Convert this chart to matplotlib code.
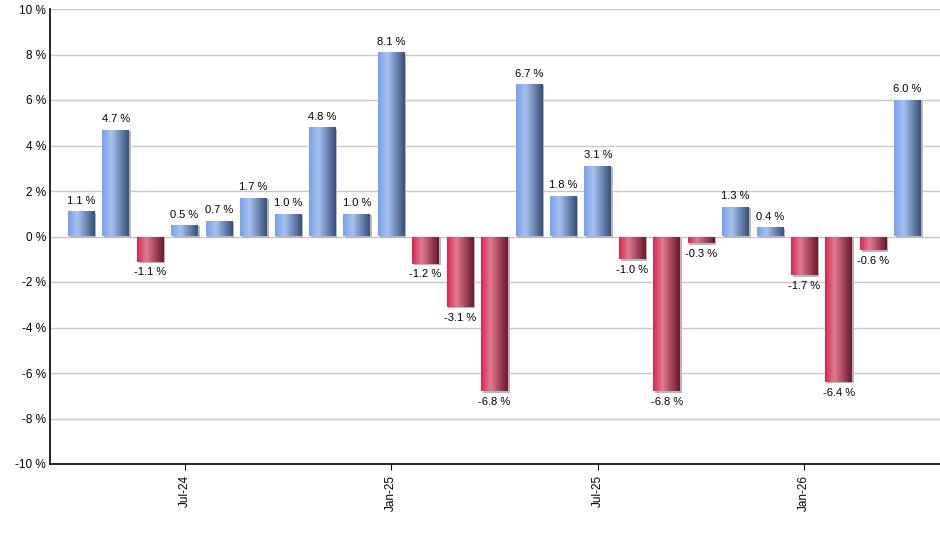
import numpy as np
import matplotlib
matplotlib.use("Agg")
import matplotlib.pyplot as plt
from matplotlib.colors import LinearSegmentedColormap

plt.rcParams['font.family'] = ['Liberation Sans', 'DejaVu Sans']

# monthly returns, Apr-24 .. Apr-26
months = ["Apr-24", "May-24", "Jun-24", "Jul-24", "Aug-24", "Sep-24", "Oct-24",
          "Nov-24", "Dec-24", "Jan-25", "Feb-25", "Mar-25", "Apr-25", "May-25",
          "Jun-25", "Jul-25", "Aug-25", "Sep-25", "Oct-25", "Nov-25", "Dec-25",
          "Jan-26", "Feb-26", "Mar-26", "Apr-26"]
returns = [1.1, 4.7, -1.1, 0.5, 0.7, 1.7, 1.0, 4.8, 1.0, 8.1, -1.2, -3.1, -6.8,
           6.7, 1.8, 3.1, -1.0, -6.8, -0.3, 1.3, 0.4, -1.7, -6.4, -0.6, 6.0]
tick_labels = ["Jul-24", "Jan-25", "Jul-25", "Jan-26"]

blue_cmap = LinearSegmentedColormap.from_list(
    "blue", [(0, "#78a0ea"), (0.35, "#a8c2f2"), (0.7, "#6a84b4"), (1, "#3a4f78")])
red_cmap = LinearSegmentedColormap.from_list(
    "red", [(0, "#d8264e"), (0.35, "#e27c92"), (0.7, "#a2435a"), (1, "#6a1a2c")])

fig = plt.figure(figsize=(9.4, 5.5), dpi=100)
ax = fig.add_axes([50 / 940, (550 - 464) / 550, 890 / 940, 455 / 550])

x = np.arange(len(returns))
width = 0.775
grad = np.linspace(0, 1, 64).reshape(1, -1)

bars = ax.bar(x, returns, width=width, color="none", edgecolor="none", zorder=3)
for rect, v in zip(bars, returns):
    x0, w = rect.get_x(), rect.get_width()
    y0, y1 = min(0, v), max(0, v)
    # drop shadow
    ax.bar(x0 + w / 2 + 0.05, y1 - y0, width=w, bottom=y0 - 0.06,
           color="#b8b8b8", zorder=2)
    cmap = blue_cmap if v >= 0 else red_cmap
    im = ax.imshow(grad, cmap=cmap, aspect="auto", extent=(x0, x0 + w, y0, y1),
                   zorder=3, interpolation="bilinear")
    im.set_clip_path(rect)
    rect.set_clip_on(False)
    if v >= 0:
        ax.annotate(f"{v:.1f} %", (x0 + w / 2, v), xytext=(0, 4),
                    textcoords="offset points", ha="center", va="bottom", fontsize=8)
    else:
        ax.annotate(f"{v:.1f} %", (x0 + w / 2, v), xytext=(0, -4),
                    textcoords="offset points", ha="center", va="top", fontsize=8)

ax.set_xlim(-0.91, len(returns) - 1 + 0.94)
ax.set_ylim(-10, 10)
ax.set_yticks(np.arange(-10, 11, 2))
ax.set_yticklabels([f"{t} %" for t in range(-10, 11, 2)], fontsize=8.5)
ax.set_xticks([months.index(m) for m in tick_labels])
ax.set_xticklabels(tick_labels, rotation=90, fontsize=8.5)
ax.tick_params(axis="y", length=0, pad=3)
ax.tick_params(axis="x", length=4, pad=4)
ax.yaxis.grid(True, color="#c8c8c8", linewidth=1, zorder=0)
ax.set_axisbelow(True)
for s in ["top", "right"]:
    ax.spines[s].set_visible(False)
for s in ["left", "bottom"]:
    ax.spines[s].set_linewidth(1.2)

fig.savefig("out.png", dpi=100)
